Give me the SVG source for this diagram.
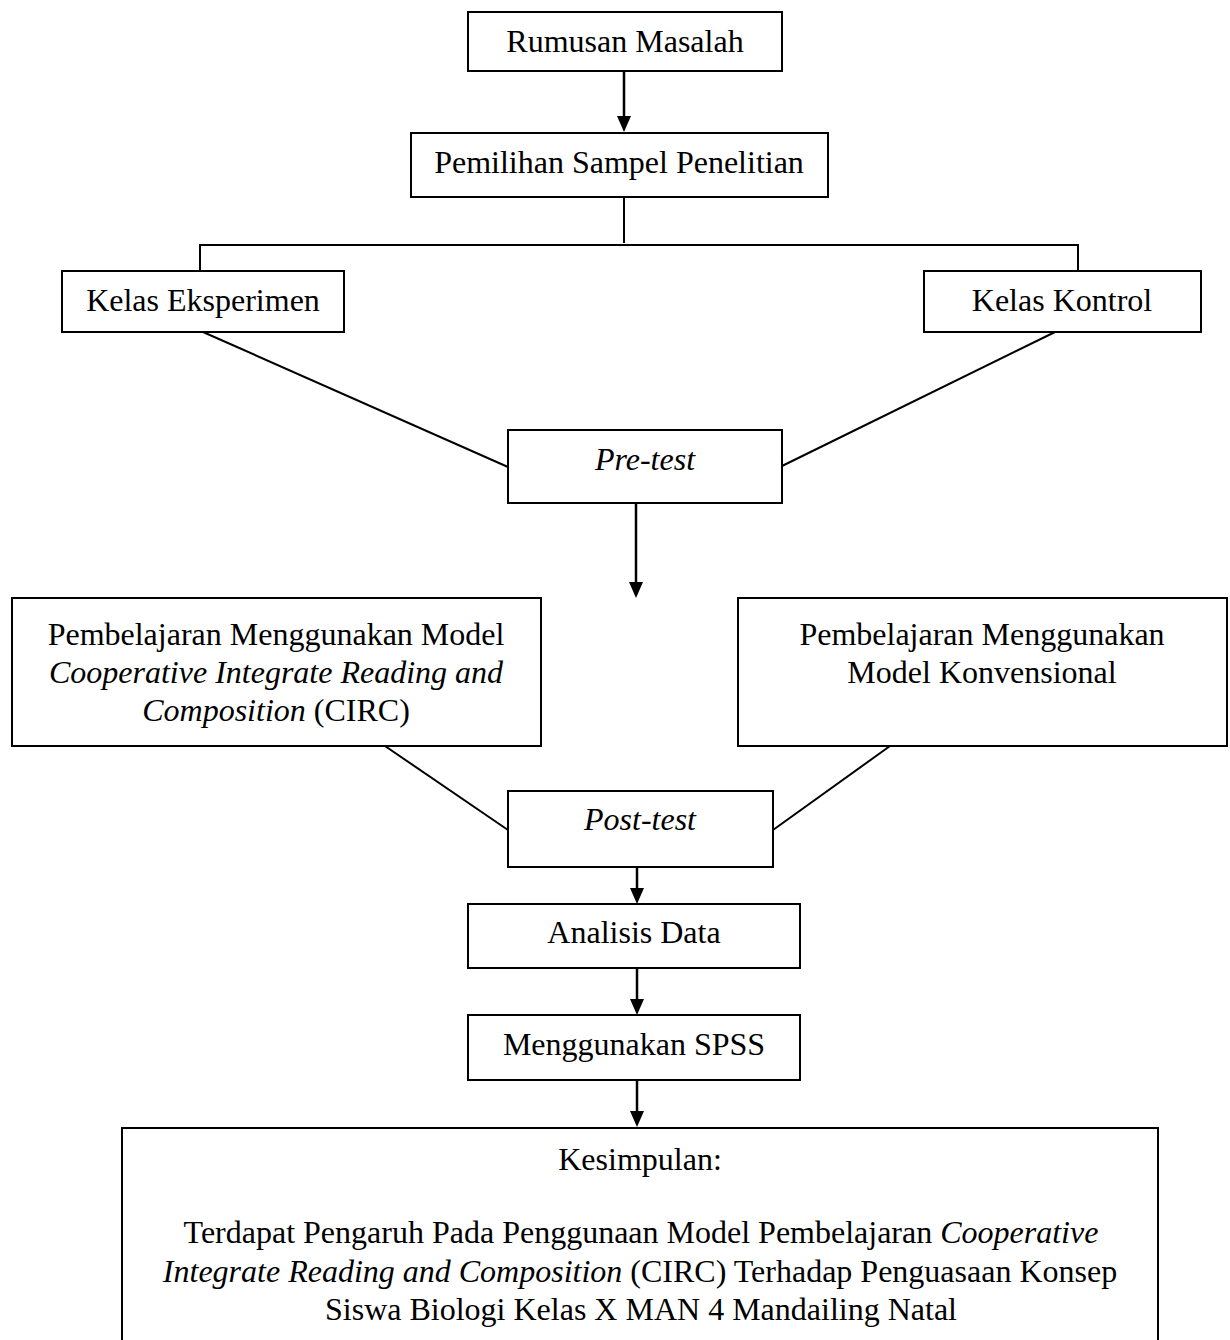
<svg xmlns="http://www.w3.org/2000/svg" width="1230" height="1340" viewBox="0 0 1230 1340">
<style>
.box{fill:#fff;stroke:#000;stroke-width:2}
.ln{fill:none;stroke:#000;stroke-width:2}
.ar{fill:none;stroke:#000;stroke-width:2.5}
text{font-family:"Liberation Serif","Times New Roman",serif;font-size:32px;fill:#000;text-anchor:middle}
.it{font-style:italic}
</style>
<rect width="1230" height="1340" fill="#fff"/>
<g id="connectors">
<line class="ar" x1="624" y1="71" x2="624" y2="117"/>
<path d="M617,116 L631,116 L624,132 Z" fill="#000"/>
<polyline class="ln" points="624,197 624,243"/>
<polyline class="ln" points="200,271 200,245 1078,245 1078,271"/>
<line class="ln" x1="203" y1="332" x2="508" y2="467"/>
<line class="ln" x1="1055" y1="332" x2="782" y2="466"/>
<line class="ar" x1="636" y1="503" x2="636" y2="584"/>
<path d="M629,582 L643,582 L636,598 Z" fill="#000"/>
<line class="ln" x1="385" y1="746" x2="508" y2="830"/>
<line class="ln" x1="890" y1="746" x2="773" y2="830"/>
<line class="ar" x1="637" y1="867" x2="637" y2="890"/>
<path d="M630,888 L644,888 L637,904 Z" fill="#000"/>
<line class="ar" x1="637" y1="968" x2="637" y2="1001"/>
<path d="M630,999 L644,999 L637,1015 Z" fill="#000"/>
<line class="ar" x1="637" y1="1080" x2="637" y2="1113"/>
<path d="M630,1111 L644,1111 L637,1127 Z" fill="#000"/>
</g>
<g id="n-rumusan">
<rect class="box" x="468" y="12" width="314" height="59"/>
<text x="625" y="52">Rumusan Masalah</text>
</g>
<g id="n-pemilihan">
<rect class="box" x="411" y="133" width="417" height="64"/>
<text x="619" y="173">Pemilihan Sampel Penelitian</text>
</g>
<g id="n-eksperimen">
<rect class="box" x="62" y="271" width="282" height="61"/>
<text x="203" y="311">Kelas Eksperimen</text>
</g>
<g id="n-kontrol">
<rect class="box" x="924" y="271" width="277" height="61"/>
<text x="1062" y="311">Kelas Kontrol</text>
</g>
<g id="n-pretest">
<rect class="box" x="508" y="430" width="274" height="73"/>
<text x="645" y="470" class="it">Pre-test</text>
</g>
<g id="n-circ">
<rect class="box" x="12" y="598" width="529" height="148"/>
<text x="276" y="645">Pembelajaran Menggunakan Model</text>
<text x="276" y="683" class="it">Cooperative Integrate Reading and</text>
<text x="276" y="721"><tspan class="it">Composition</tspan> (CIRC)</text>
</g>
<g id="n-konvensional">
<rect class="box" x="738" y="598" width="489" height="148"/>
<text x="982" y="645">Pembelajaran Menggunakan</text>
<text x="982" y="683">Model Konvensional</text>
</g>
<g id="n-posttest">
<rect class="box" x="508" y="791" width="265" height="76"/>
<text x="640" y="830" class="it">Post-test</text>
</g>
<g id="n-analisis">
<rect class="box" x="468" y="904" width="332" height="64"/>
<text x="634" y="943">Analisis Data</text>
</g>
<g id="n-spss">
<rect class="box" x="468" y="1015" width="332" height="65"/>
<text x="634" y="1055">Menggunakan SPSS</text>
</g>
<g id="n-kesimpulan">
<rect class="box" x="122" y="1128" width="1036" height="230"/>
<text x="640" y="1170">Kesimpulan:</text>
<text x="641" y="1243">Terdapat Pengaruh Pada Penggunaan Model Pembelajaran <tspan class="it">Cooperative</tspan></text>
<text x="640" y="1282"><tspan class="it">Integrate Reading and Composition</tspan> (CIRC) Terhadap Penguasaan Konsep</text>
<text x="641" y="1320">Siswa Biologi Kelas X MAN 4 Mandailing Natal</text>
</g>
</svg>
